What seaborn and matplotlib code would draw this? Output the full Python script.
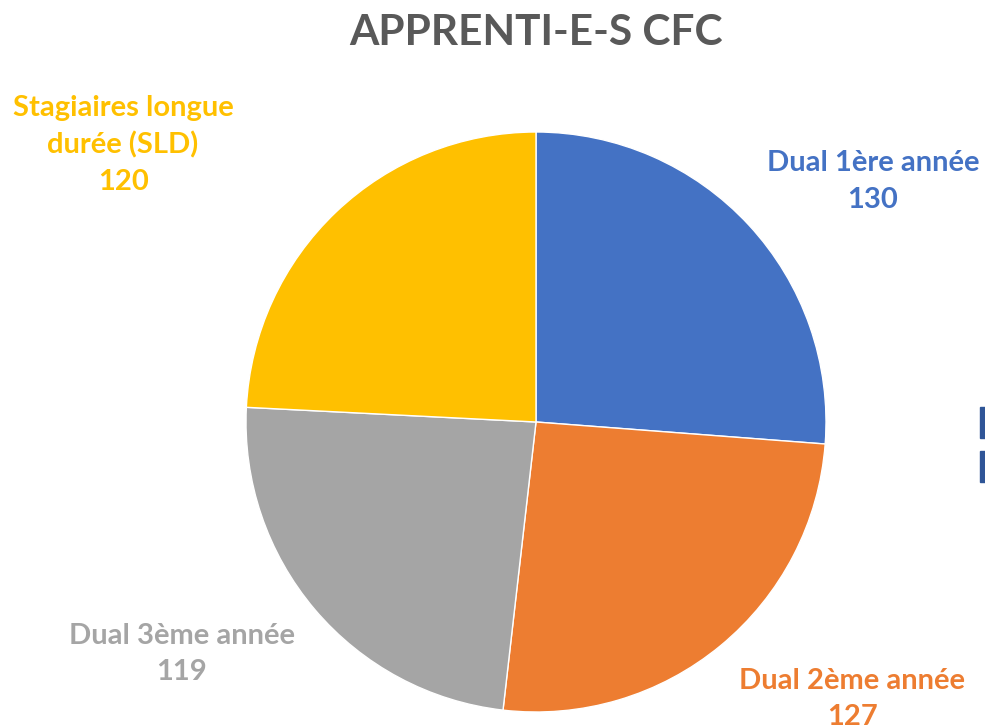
import matplotlib
matplotlib.use("Agg")
import matplotlib.pyplot as plt
import seaborn as sns
from matplotlib.patches import Rectangle

categories = ["Dual 1ère année", "Dual 2ème année", "Dual 3ème année", "Stagiaires longue\ndurée (SLD)"]
values = [130, 127, 119, 120]
colors = ["#4472C4", "#ED7D31", "#A5A5A5", "#FFC000"]
title = "APPRENTI-E-S CFC"

sns.set_theme(style="white")
plt.rcParams['font.family'] = ['Lato', 'DejaVu Sans']

W, H = 985, 728
fig = plt.figure(figsize=(W / 100, H / 100), dpi=100)
cx, cy, r = 536, 422, 290
ax = fig.add_axes([(cx - r) / W, (H - cy - r) / H, 2 * r / W, 2 * r / H])

ax.pie(values, colors=colors, startangle=90, counterclock=False, radius=1,
       wedgeprops=dict(edgecolor="white", linewidth=1.0))
ax.set_xlim(-1, 1)
ax.set_ylim(-1, 1)
ax.set_aspect("equal")
ax.axis("off")

label_pos = [(1.162, 0.83), (1.09, -0.955), (-1.221, -0.8), (-1.424, 0.955)]
for cat, val, col, (lx, ly) in zip(categories, values, colors, label_pos):
    ax.text(lx, ly, f"{cat}\n{val}", color=col, fontsize=21, fontweight="bold",
            ha="center", va="center", linespacing=1.5, clip_on=False)

fig.text(536 / W, 1 - 33 / H, title, color="#595959", fontsize=30.5, fontweight="bold",
         ha="center", va="center")

# clipped legend fragments at right edge
for y0 in (407, 451):
    fig.patches.append(Rectangle((980 / W, 1 - (y0 + 31) / H), 6 / W, 31 / H,
                                 transform=fig.transFigure, color="#2F5597"))

fig.savefig("out.png", dpi=100)
